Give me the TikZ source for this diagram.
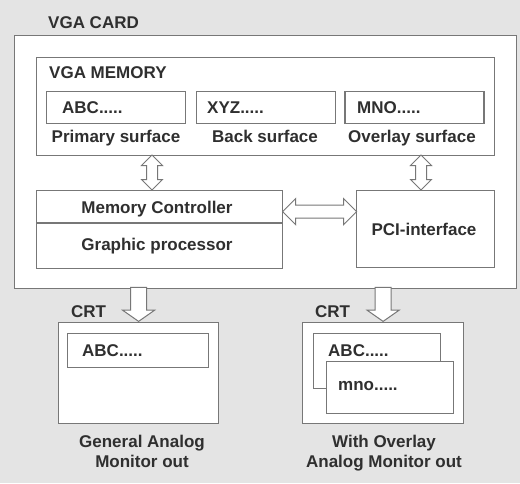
\documentclass[tikz,border=0pt]{standalone}
\usepackage{fontspec}
\setmainfont{Liberation Sans}
\usepackage{tikz}
\usetikzlibrary{
  calc,%
  % hollow block arrows
  shapes.arrows,%
  positioning
}
\definecolor{paper}{HTML}{E4E4E4}
\definecolor{linegray}{HTML}{777777}
\definecolor{inkgray}{HTML}{2F2F2F}
\tikzset{>=latex}
\tikzset{font=\fontsize{17}{20}\selectfont\bfseries}
\tikzset{box/.style={draw=linegray, fill=white, line width=1.2pt, inner sep=0pt, anchor=north west},
  lbl/.style={text=inkgray, inner sep=0pt}}
\tikzset{fatarrow/.style={draw=linegray, fill=white, line width=1pt, inner xsep=0pt},
  busarrow/.style={fatarrow, double arrow, inner ysep=5pt, double arrow head extend=5pt, double arrow tip angle=90},
  outarrow/.style={fatarrow, single arrow, inner ysep=7.5pt, single arrow head extend=8pt,
    single arrow tip angle=110, minimum height=34pt, rotate=-90, anchor=tip}}

\begin{document}
\begin{tikzpicture}[x=1pt, y=-1pt]
  \fill[paper] (0,0) rectangle (520,483);
  \useasboundingbox (0,0) rectangle (520,483);
  % the card
  \node[box, minimum width=502pt, minimum height=253pt] (card) at (14,35) {};
  \node[lbl, anchor=base west] (cardlbl) at (48,28) {VGA CARD};
  \node[box, minimum width=458pt, minimum height=98pt] (mem) at (36,57) {};
  \node[lbl, anchor=base west] (memlbl) at (49,78) {VGA MEMORY};
  \node[box, minimum width=139pt, minimum height=32pt] (prim) at (46,91) {};
  \node[box, minimum width=139pt, minimum height=32pt, right=10pt of prim] (back) {};
  \node[box, minimum width=139pt, minimum height=32pt, right=8pt of back] (ovl) {};
  \node[lbl, anchor=base west] at (62,113) {ABC.....};
  \node[lbl, anchor=base west] at (207,113) {XYZ.....};
  \node[lbl, anchor=base west] at (357,113) {MNO.....};
  \node[lbl, anchor=base] at (116,142) {Primary surface};
  \node[lbl, anchor=base] at (265,142) {Back surface};
  \node[lbl, anchor=base] at (412,142) {Overlay surface};
  \node[box, minimum width=246pt, minimum height=32pt] (ctrl) at (36,190) {};
  \node[box, minimum width=246pt, minimum height=45pt, below=0pt of ctrl] (gfx) {};
  \node[lbl, anchor=base] at (157,213) {Memory Controller};
  \node[lbl, anchor=base] at (157,250) {Graphic processor};
  \node[box, minimum width=138pt, minimum height=77pt] (pci) at (356,190) {};
  \node[lbl, anchor=base] at (424,235) {PCI-interface};
  % buses
  \node[busarrow, minimum height=35pt, rotate=90] (memctrl) at (152,172.5) {};
  \node[busarrow, minimum height=35pt, rotate=90] (mempci) at (421,172.5) {};
  \node[busarrow, minimum height=74pt, inner ysep=6pt, double arrow head extend=6.5pt] (ctrlpci)
    at ($(ctrl.east)!0.5!(pci.west |- ctrl.east)+(0,5)$) {};
  % monitors
  \node[box, minimum width=160pt, minimum height=101pt] (crta) at (58,322) {};
  \node[lbl, anchor=base west] at (71,317) {CRT};
  \node[box, minimum width=141pt, minimum height=34pt] (scra) at (67,333) {};
  \node[lbl, anchor=base west] at (82,356) {ABC.....};
  \node[box, minimum width=161pt, minimum height=101pt] (crtb) at (302,322) {};
  \node[lbl, anchor=base west] at (315,317) {CRT};
  \node[box, minimum width=127pt, minimum height=55pt] (scrb) at (313,333) {};
  \node[lbl, anchor=base west] at (328,356) {ABC.....};
  \node[box, minimum width=127pt, minimum height=52pt] (ovlb) at (326,361) {};
  \node[lbl, anchor=base west] at (338,390) {mno.....};
  \node[outarrow] (outa) at (crta.north) {};
  \node[outarrow] (outb) at (crtb.north) {};
  \node[lbl, anchor=base, align=center] at (142,467) {General Analog\\Monitor out};
  \node[lbl, anchor=base, align=center] at (384,467) {With Overlay\\Analog Monitor out};
\end{tikzpicture}
\end{document}
